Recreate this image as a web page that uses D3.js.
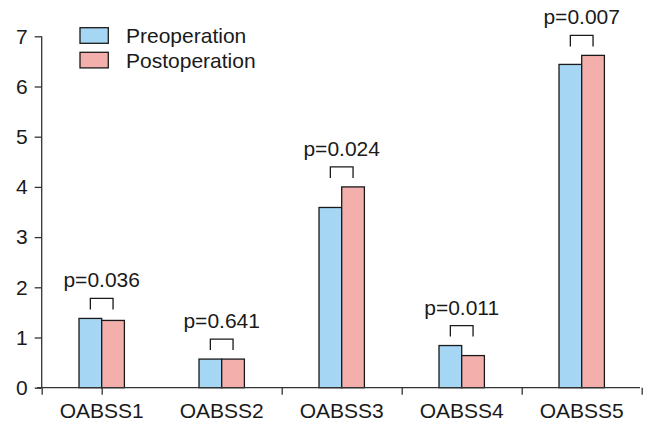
<!DOCTYPE html>
<html><head><meta charset="utf-8">
<script src="https://cdn.jsdelivr.net/npm/d3@7"></script>
<style>
html,body{margin:0;padding:0;background:#fff;}
text{font-family:"Liberation Sans",Arial,sans-serif;fill:#1a1a1a;}
</style></head>
<body>
<script>
const categories = ["OABSS1","OABSS2","OABSS3","OABSS4","OABSS5"];
const preoperation = [1.38, 0.57, 3.59, 0.84, 6.44];
const postoperation = [1.34, 0.57, 4.00, 0.64, 6.62];
const pValues = ["p=0.036","p=0.641","p=0.024","p=0.011","p=0.007"];
const seriesNames = ["Preoperation","Postoperation"];
const yTicks = [0,1,2,3,4,5,6,7];
const xTickPositions = [-0.5, 0, 1.5, 2.5, 3.5, 4.5];

const W = 645, H = 421;
const FS = 21;
const colors = ["#a5d6f3", "#f3afab"];
const svg = d3.select("body").append("svg").attr("width", W).attr("height", H);

const y = d3.scaleLinear().domain([0, 7]).range([387.7, 36.3]);
const xc = d3.scaleLinear().domain([0, 4]).range([101.7, 581.7]);
const barW = 22.7;

// bars
const series = [preoperation, postoperation];
series.forEach((vals, s) => {
  svg.append("g").selectAll("rect").data(vals).join("rect")
    .attr("x", (d, i) => xc(i) + (s === 0 ? -barW : 0))
    .attr("y", d => y(d))
    .attr("width", barW)
    .attr("height", d => y(0) - y(d))
    .attr("fill", colors[s])
    .attr("stroke", "#1a1a1a")
    .attr("stroke-width", 1.3);
});

// y axis
const yAxis = d3.axisLeft(y).tickValues(yTicks).tickSize(7).tickPadding(7).tickFormat(d3.format("d"));
const gy = svg.append("g").attr("transform", "translate(41.7,0)").call(yAxis);
gy.select(".domain").attr("stroke", "#333").attr("stroke-width", 1.3).attr("d", `M0,${y(7)}V${y(0)}`);
gy.selectAll(".tick line").attr("stroke", "#333").attr("stroke-width", 1.3);
gy.selectAll(".tick text").attr("font-size", FS).attr("fill", "#1a1a1a").attr("font-family", "Liberation Sans, Arial, sans-serif");

// x axis
const xAxis = d3.axisBottom(xc).tickValues(xTickPositions).tickSize(7).tickFormat("");
const gx = svg.append("g").attr("transform", `translate(0,${y(0)})`).call(xAxis);
gx.select(".domain").attr("stroke", "#333").attr("stroke-width", 1.3).attr("d", `M37,0H640`);
gx.selectAll(".tick line").attr("stroke", "#333").attr("stroke-width", 1.3);

svg.append("g").selectAll("text").data(categories).join("text")
  .attr("x", (d, i) => xc(i)).attr("y", 418)
  .attr("text-anchor", "middle").attr("font-size", FS).text(d => d);

// brackets and p values
categories.forEach((c, i) => {
  const top = y(Math.max(preoperation[i], postoperation[i]));
  const base = top - 9;
  const btop = base - 11;
  const x0 = xc(i) - barW / 2, x1 = xc(i) + barW / 2;
  svg.append("path")
    .attr("d", `M${x0},${base}V${btop}H${x1}V${base}`)
    .attr("fill", "none").attr("stroke", "#1a1a1a").attr("stroke-width", 1.3);
  svg.append("text").attr("x", xc(i)).attr("y", btop - 11)
    .attr("text-anchor", "middle").attr("font-size", FS).text(pValues[i]);
});

// legend
const lg = svg.append("g");
seriesNames.forEach((n, s) => {
  lg.append("rect").attr("x", 80).attr("y", 27.7 + s * 24.6).attr("width", 28.3).attr("height", 15.6)
    .attr("fill", colors[s]).attr("stroke", "#1a1a1a").attr("stroke-width", 1.3);
  lg.append("text").attr("x", 126).attr("y", 43.3 + s * 24.6).attr("font-size", FS).text(n);
});
</script>
</body></html>
